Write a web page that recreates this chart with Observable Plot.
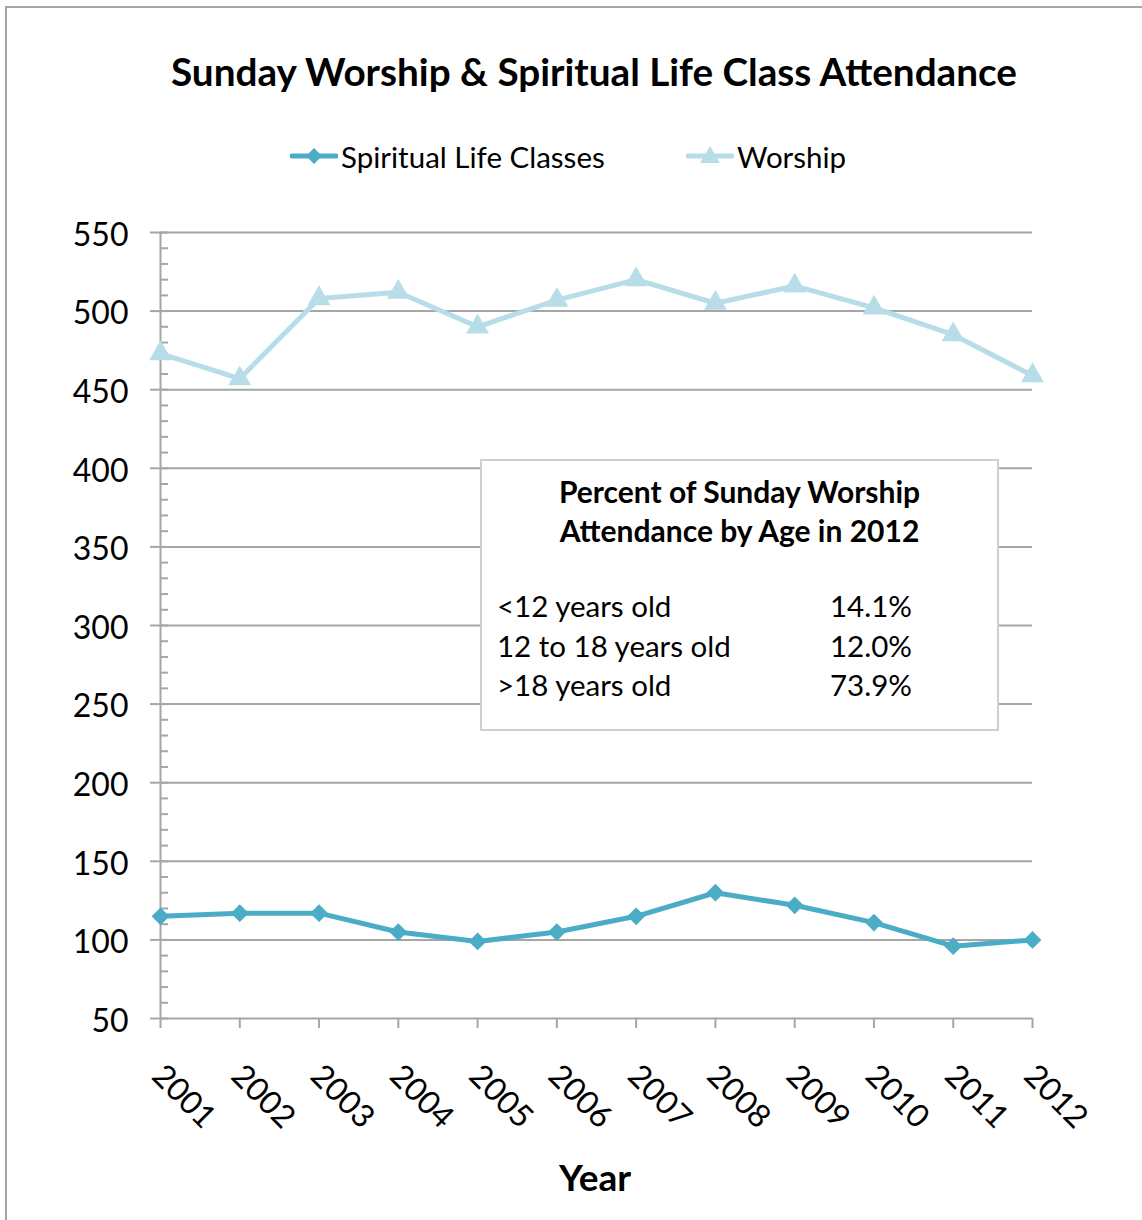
<!DOCTYPE html>
<html><head><meta charset="utf-8">
<script src="https://cdn.jsdelivr.net/npm/d3@7"></script>
<script src="https://cdn.jsdelivr.net/npm/@observablehq/plot@0.6"></script>
<style>
body{margin:0;background:#fff;font-family:Lato,"Open Sans",sans-serif;color:#000;}
#chart{position:relative;width:1142px;height:1220px;overflow:hidden;background:#fff;}
#frame{position:absolute;left:5px;top:6px;width:1300px;height:1400px;border-left:2px solid #a6a6a6;border-top:2px solid #a6a6a6;box-sizing:border-box;}
#title{position:absolute;top:48px;left:0;width:1188px;text-align:center;font-weight:bold;font-size:38.7px;line-height:46px;white-space:nowrap;}
#legend{position:absolute;top:136px;left:0;width:1142px;height:40px;font-size:29.5px;}
.lg{position:absolute;top:0;display:flex;align-items:center;height:40px;white-space:nowrap;}
#plot{position:absolute;left:0;top:200px;}
#inset{position:absolute;left:480px;top:459px;width:519px;height:272px;border:2px solid #cfcfcf;background:#fff;box-sizing:border-box;}
#inset .ht{position:absolute;left:0;width:100%;text-align:center;font-weight:bold;font-size:30px;line-height:40px;}
#inset .row{position:absolute;left:15px;font-size:29.5px;line-height:40px;white-space:nowrap;}
#inset .pct{position:absolute;left:333px;}
#xlabel{position:absolute;top:1154px;left:0;width:1190px;text-align:center;font-weight:bold;font-size:37px;line-height:46px;}
</style></head>
<body>
<div id="chart">
  <div id="frame"></div>
  <div id="title"></div>
  <div id="legend"></div>
  <div id="plot"></div>
  <div id="inset"></div>
  <div id="xlabel"></div>
</div>
<script>
const titleText = "Sunday Worship & Spiritual Life Class Attendance";
const xTitle = "Year";
const years = [2001, 2002, 2003, 2004, 2005, 2006, 2007, 2008, 2009, 2010, 2011, 2012];
const spiritualLife = [115, 117, 117, 105, 99, 105, 115, 130, 122, 111, 96, 100];
const worship = [473, 457, 508, 512, 490, 507, 520, 505, 516, 502, 485, 459];
const seriesNames = ["Spiritual Life Classes", "Worship"];
const seriesColors = ["#4bacc6", "#b7dde8"];
const yMajor = [50, 100, 150, 200, 250, 300, 350, 400, 450, 500, 550];
const yMinor = d3.range(50, 551, 10);
const insetTitle = ["Percent of Sunday Worship", "Attendance by Age in 2012"];
const ageGroups = ["<12 years old", "12 to 18 years old", ">18 years old"];
const agePercents = ["14.1%", "12.0%", "73.9%"];

document.getElementById("title").textContent = titleText;
document.getElementById("xlabel").textContent = xTitle;

// legend
const lg = document.getElementById("legend");
const swatch = (color, shape) => {
  const sym = shape === "diamond"
    ? `<path d="M24,8 L32,16 L24,24 L16,16 Z" fill="${color}"/>`
    : `<path d="M24,6 L34,23 L14,23 Z" fill="${color}"/>`;
  return `<svg width="48" height="32" style="margin-right:3px"><line x1="2" x2="46" y1="16" y2="16" stroke="${color}" stroke-width="5" stroke-linecap="round"/>${sym}</svg>`;
};
[[290, 0, "diamond"], [686, 1, "triangle"]].forEach(([left, i, shape]) => {
  const d = document.createElement("div");
  d.className = "lg";
  d.style.left = left + "px";
  d.innerHTML = swatch(seriesColors[i], shape) + `<span>${seriesNames[i]}</span>`;
  lg.appendChild(d);
});

// inset
const inset = document.getElementById("inset");
insetTitle.forEach((t, i) => {
  const d = document.createElement("div");
  d.className = "ht"; d.style.top = (10 + i * 39) + "px"; d.textContent = t;
  inset.appendChild(d);
});
ageGroups.forEach((g, i) => {
  const d = document.createElement("div");
  d.className = "row"; d.style.top = (125 + i * 39.5) + "px";
  d.innerHTML = `<span></span><span class="pct"></span>`;
  d.children[0].textContent = g;
  d.children[1].textContent = agePercents[i];
  inset.appendChild(d);
});

const data = years.map((year, i) => ({year, spiritual: spiritualLife[i], worship: worship[i]}));
const grid = "#a6a6a6";

const chart = Plot.plot({
  width: 1142,
  height: 1020,
  marginLeft: 160,
  marginRight: 110,
  marginTop: 32,
  marginBottom: 202,
  style: {fontFamily: "Lato, 'Open Sans', sans-serif", fontSize: "32px", color: "#000", background: "transparent", overflow: "visible"},
  x: {type: "linear", domain: [years[0], years[years.length - 1]]},
  y: {domain: [yMajor[0], yMajor[yMajor.length - 1]]},
  marks: [
    Plot.ruleY(yMajor, {stroke: grid, strokeWidth: 2}),
    Plot.ruleX(years.slice(0, 1), {stroke: grid, strokeWidth: 2}),
    Plot.axisY({ticks: yMinor, tickSize: 8, dx: 8, text: null, stroke: grid, strokeWidth: 2, label: null}),
    Plot.axisY({ticks: yMajor, tickSize: 10, text: null, stroke: grid, strokeWidth: 2, label: null}),
    Plot.axisY({ticks: yMajor, tickSize: 0, tickPadding: 32, dy: 3, tickFormat: d => String(d), label: null, fill: "#000"}),
    Plot.axisX({ticks: years, tickSize: 10, text: null, stroke: grid, strokeWidth: 2, label: null}),
    Plot.axisX({ticks: years, tickSize: 0, tickPadding: 52, tickRotate: 45, dx: -3, tickFormat: d => String(d), label: null, fill: "#000"}),
    Plot.line(data, {x: "year", y: "worship", stroke: seriesColors[1], strokeWidth: 5}),
    Plot.dot(data, {x: "year", y: "worship", symbol: "triangle", r: 8.5, fill: seriesColors[1], stroke: "none"}),
    Plot.line(data, {x: "year", y: "spiritual", stroke: seriesColors[0], strokeWidth: 5}),
    Plot.dot(data, {x: "year", y: "spiritual", symbol: "diamond2", r: 8, fill: seriesColors[0], stroke: "none"})
  ]
});
document.getElementById("plot").appendChild(chart);
</script>
</body></html>
